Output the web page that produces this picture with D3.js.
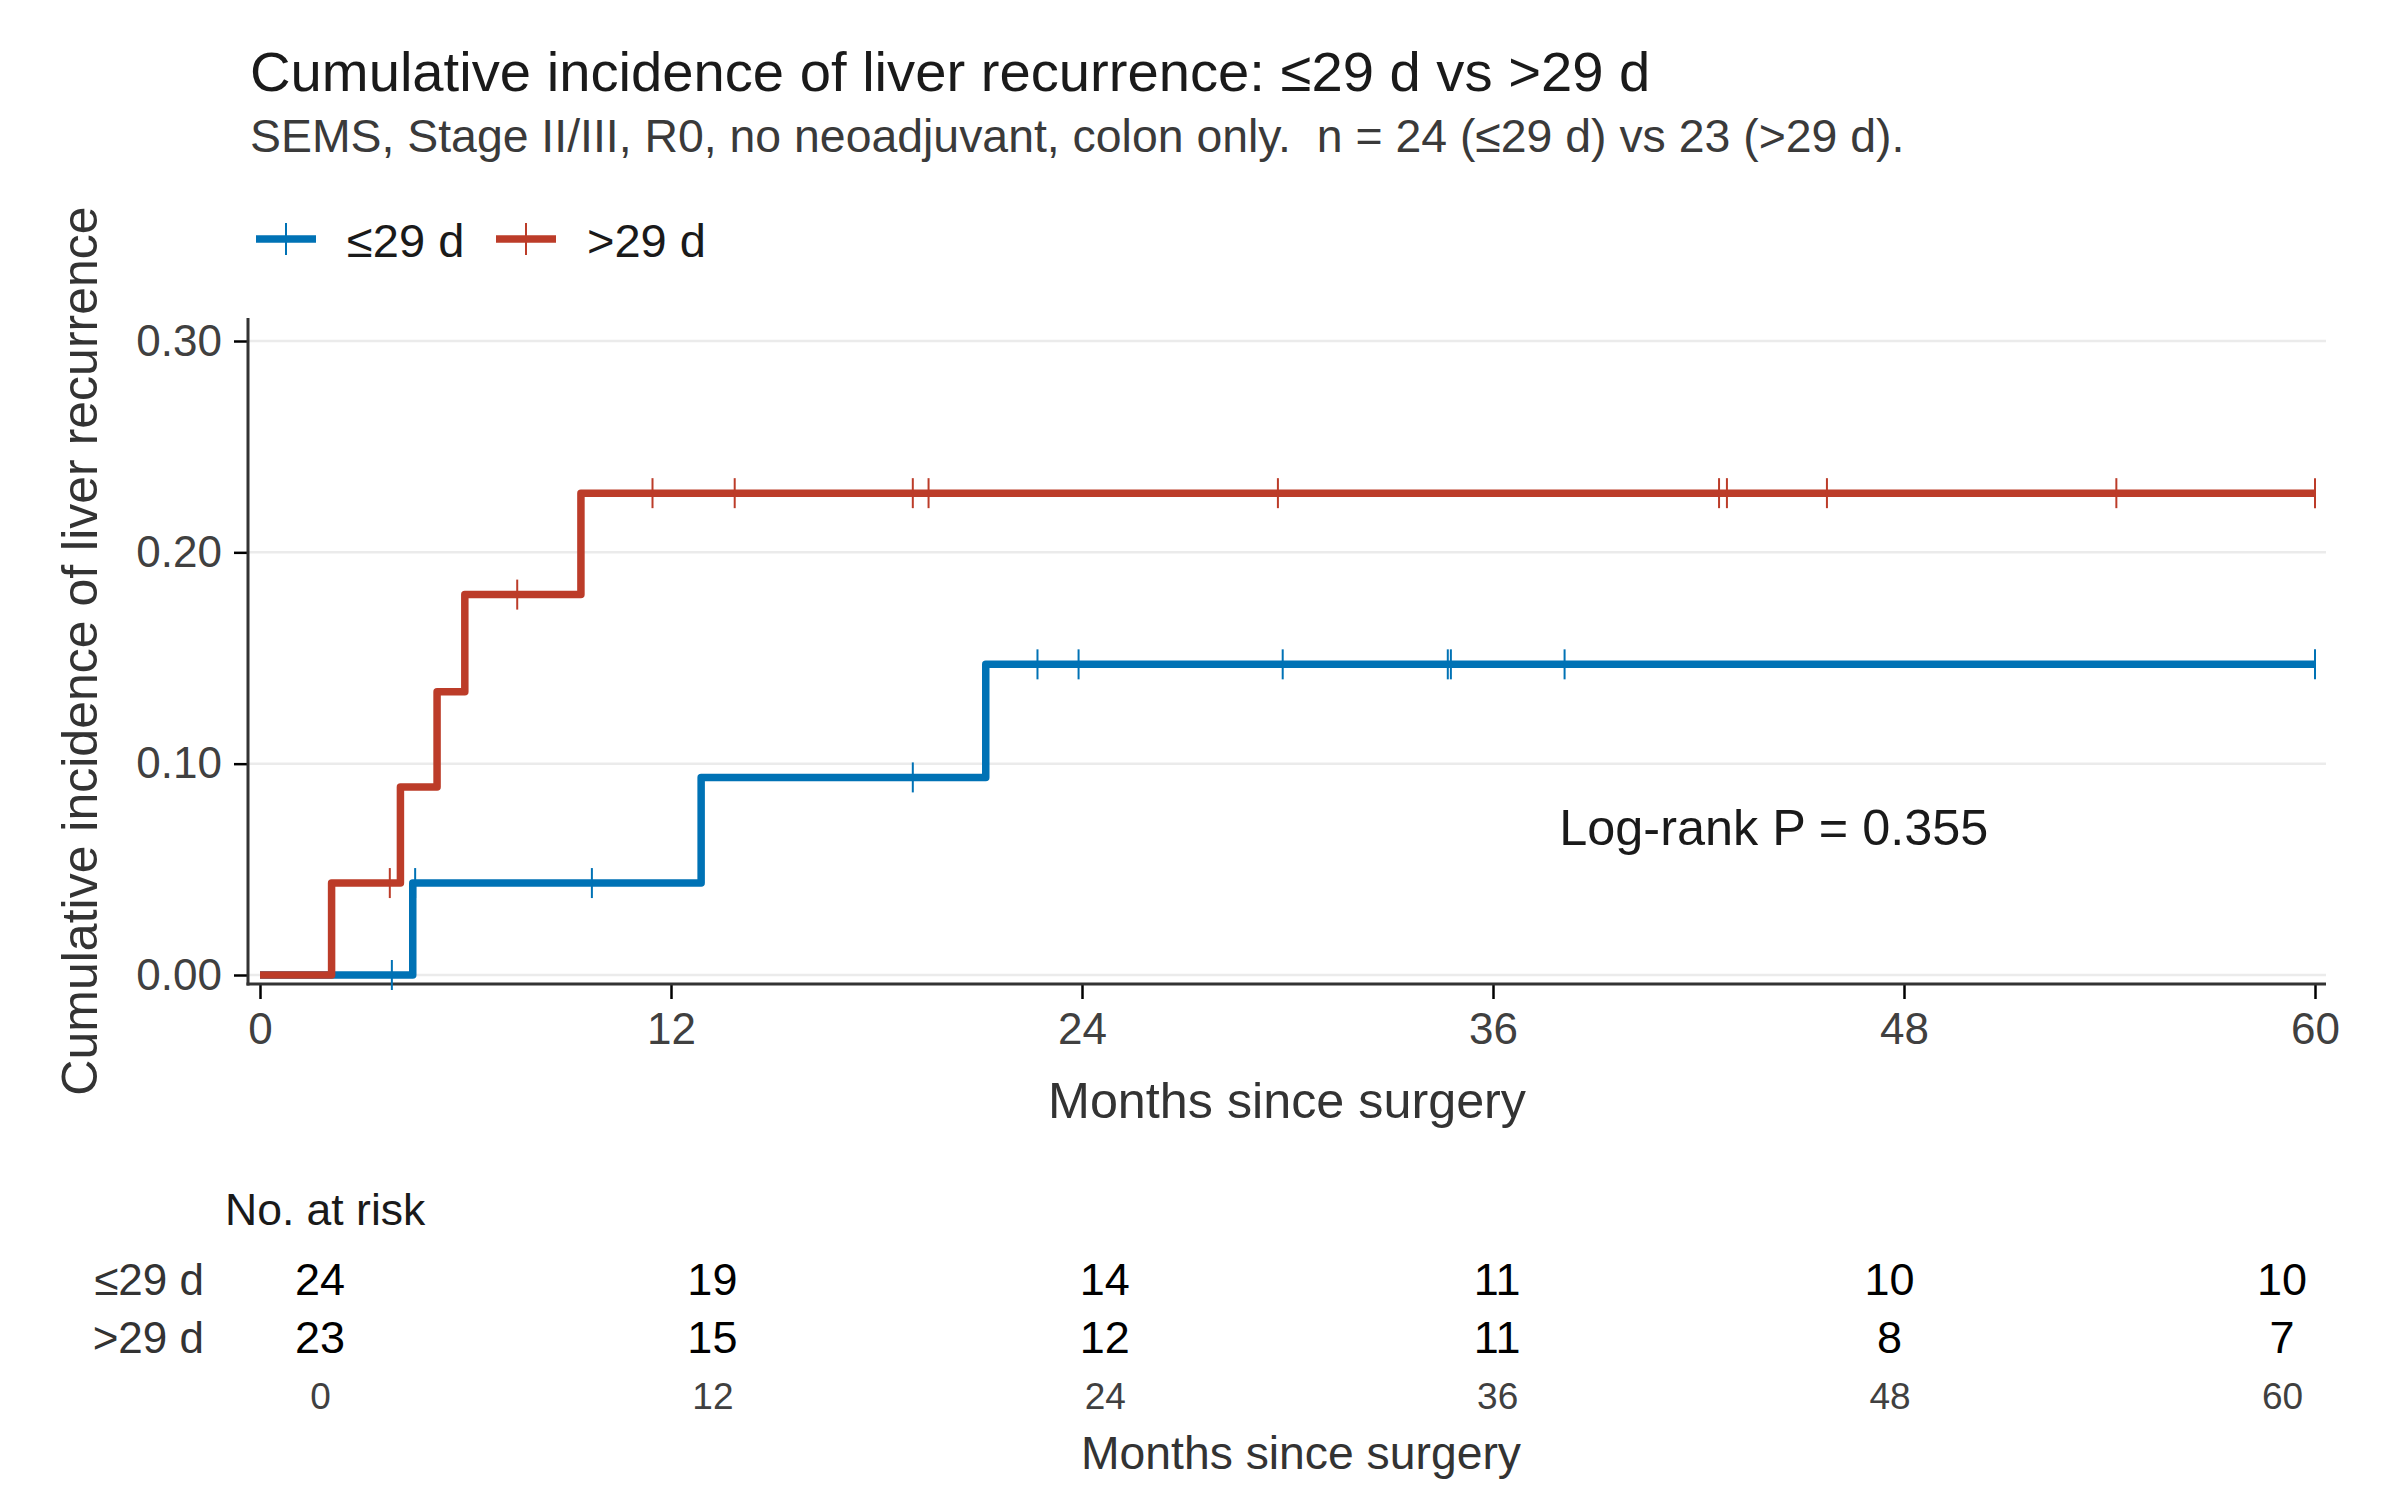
<!DOCTYPE html>
<html>
<head>
<meta charset="utf-8">
<script src="https://cdn.jsdelivr.net/npm/d3@7"></script>
<style>
  body { margin: 0; background: #fff; }
  svg text { font-family: "Liberation Sans", Arial, sans-serif; }
</style>
</head>
<body>
<div id="chart"></div>
<script>
// Step curves (time in months, cumulative incidence after that time)
const groups = ["≤29 d", ">29 d"];
const colors = ["#0072B5", "#BC3C29"];

const earlyTimes = [0, 4.46, 12.88, 21.19];
const earlyValues = [0, 0.0435, 0.0935, 0.147];
const earlyCensor = [3.85, 4.53, 9.69, 19.06, 22.7, 23.9, 29.86, 34.68, 34.77, 38.09, 60];

const lateTimes = [0, 2.09, 4.10, 5.17, 5.98, 9.37];
const lateValues = [0, 0.0435, 0.089, 0.134, 0.180, 0.228];
const lateCensor = [3.79, 7.51, 11.46, 13.86, 19.06, 19.52, 29.72, 42.6, 42.83, 45.75, 54.2, 60];

const maxMonth = 60;
const xTicks = [0, 12, 24, 36, 48, 60];
const yTicks = [0, 0.1, 0.2, 0.3];

// Number at risk table
const riskMonths = [0, 12, 24, 36, 48, 60];
const riskEarly = [24, 19, 14, 11, 10, 10];
const riskLate = [23, 15, 12, 11, 8, 7];

const title = "Cumulative incidence of liver recurrence: ≤29 d vs >29 d";
const subtitle = "SEMS, Stage II/III, R0, no neoadjuvant, colon only.  n = 24 (≤29 d) vs 23 (>29 d).";
const pLabel = "Log-rank P = 0.355";
const pPos = [44.2, 0.07];

const W = 2400, H = 1500;
const panel = { left: 248, right: 2326, top: 318, bottom: 984 };

const svg = d3.select("#chart").append("svg")
    .attr("width", W)
    .attr("height", H)
    .attr("viewBox", `0 0 ${W} ${H}`);

svg.append("rect").attr("width", W).attr("height", H).attr("fill", "#fff");

const x = d3.scaleLinear().domain([0, maxMonth]).range([260, 2315]);
const y = d3.scaleLinear().domain([0, 0.3]).range([975, 341]);

// Titles
svg.append("text")
    .attr("x", 250).attr("y", 91)
    .attr("font-size", 56.2).attr("fill", "#1a1a1a")
    .text(title);

svg.append("text")
    .attr("x", 250).attr("y", 152)
    .attr("font-size", 46.4).attr("fill", "#3a3a3a")
    .style("white-space", "pre")
    .text(subtitle);

// Legend
const legendX = [256, 496];
groups.forEach((g, i) => {
    const lg = svg.append("g").attr("transform", `translate(${legendX[i]},239)`);
    lg.append("line")
        .attr("x1", 0).attr("x2", 60)
        .attr("stroke", colors[i]).attr("stroke-width", 7.5);
    lg.append("line")
        .attr("x1", 30).attr("x2", 30).attr("y1", -16).attr("y2", 16)
        .attr("stroke", colors[i]).attr("stroke-width", 2);
    lg.append("text")
        .attr("x", 91).attr("y", 18)
        .attr("font-size", 47).attr("fill", "#1a1a1a")
        .text(g);
});

// Grid
svg.append("g").selectAll("line")
    .data(yTicks)
    .join("line")
    .attr("x1", panel.left).attr("x2", panel.right)
    .attr("y1", d => y(d)).attr("y2", d => y(d))
    .attr("stroke", "#ebebeb").attr("stroke-width", 2.5);

// Axes
const yAxisG = svg.append("g")
    .attr("transform", `translate(${panel.left - 1},0)`)
    .call(d3.axisLeft(y).tickValues(yTicks).tickFormat(d3.format(".2f")).tickSize(13).tickPadding(12));

const xAxisG = svg.append("g")
    .attr("transform", `translate(0,${panel.bottom + 1})`)
    .call(d3.axisBottom(x).tickValues(xTicks).tickSize(14).tickPadding(14));

[yAxisG, xAxisG].forEach(g => {
    g.select(".domain").remove();
    g.selectAll(".tick line").attr("stroke", "#000").attr("stroke-width", 2.5);
    g.selectAll(".tick text")
        .attr("font-size", 44)
        .attr("fill", "#404040")
        .style("font-family", "'Liberation Sans', Arial, sans-serif");
});

svg.append("line")
    .attr("x1", panel.left).attr("x2", panel.left)
    .attr("y1", panel.top).attr("y2", panel.bottom + 1.5)
    .attr("stroke", "#333").attr("stroke-width", 3);
svg.append("line")
    .attr("x1", panel.left - 1.5).attr("x2", panel.right)
    .attr("y1", panel.bottom).attr("y2", panel.bottom)
    .attr("stroke", "#333").attr("stroke-width", 3);

// Axis titles
svg.append("text")
    .attr("transform", `translate(97,${(panel.top + panel.bottom) / 2}) rotate(-90)`)
    .attr("text-anchor", "middle")
    .attr("font-size", 50).attr("fill", "#333")
    .text("Cumulative incidence of liver recurrence");

svg.append("text")
    .attr("x", (panel.left + panel.right) / 2).attr("y", 1118)
    .attr("text-anchor", "middle")
    .attr("font-size", 50.3).attr("fill", "#333")
    .text("Months since surgery");

// Curves: blue first so red sits on top
const curves = [
    { times: earlyTimes, values: earlyValues, censor: earlyCensor, color: colors[0] },
    { times: lateTimes, values: lateValues, censor: lateCensor, color: colors[1] }
];

const stepLine = d3.line()
    .x(d => x(d[0]))
    .y(d => y(d[1]))
    .curve(d3.curveStepAfter);

const valueAt = (c, t) => c.values[d3.bisectRight(c.times, t) - 1];

curves.forEach(c => {
    const pts = c.times.map((t, i) => [t, c.values[i]]);
    pts.push([maxMonth, c.values[c.values.length - 1]]);

    svg.append("path")
        .datum(pts)
        .attr("d", stepLine)
        .attr("fill", "none")
        .attr("stroke", c.color)
        .attr("stroke-width", 7.5)
        .attr("stroke-linejoin", "round");

    svg.append("g").selectAll("line")
        .data(c.censor)
        .join("line")
        .attr("x1", d => x(d)).attr("x2", d => x(d))
        .attr("y1", d => y(valueAt(c, d)) - 15)
        .attr("y2", d => y(valueAt(c, d)) + 15)
        .attr("stroke", c.color)
        .attr("stroke-width", 2);
});

svg.append("text")
    .attr("x", x(pPos[0])).attr("y", y(pPos[1]))
    .attr("dy", "0.36em")
    .attr("text-anchor", "middle")
    .attr("font-size", 50.4).attr("fill", "#1a1a1a")
    .text(pLabel);

// Number at risk table
const xr = d3.scaleLinear().domain([0, maxMonth]).range([320, 2282]);

svg.append("text")
    .attr("x", 225).attr("y", 1225)
    .attr("font-size", 44.5).attr("fill", "#1a1a1a")
    .text("No. at risk");

const rows = [
    { label: groups[0], counts: riskEarly, yy: 1295 },
    { label: groups[1], counts: riskLate, yy: 1353 }
];

rows.forEach(r => {
    svg.append("text")
        .attr("x", 204).attr("y", r.yy)
        .attr("text-anchor", "end")
        .attr("font-size", 44).attr("fill", "#333")
        .text(r.label);

    svg.append("g").selectAll("text")
        .data(r.counts)
        .join("text")
        .attr("x", (d, i) => xr(riskMonths[i]))
        .attr("y", r.yy)
        .attr("text-anchor", "middle")
        .attr("font-size", 45).attr("fill", "#000")
        .text(d => d);
});

const riskAxis = svg.append("g")
    .attr("transform", "translate(0,1383)")
    .call(d3.axisBottom(xr).tickValues(riskMonths).tickSize(0).tickPadding(0));
riskAxis.select(".domain").remove();
riskAxis.selectAll(".tick text")
    .attr("font-size", 37)
    .attr("fill", "#404040")
    .style("font-family", "'Liberation Sans', Arial, sans-serif");

svg.append("text")
    .attr("x", (320 + 2282) / 2).attr("y", 1469)
    .attr("text-anchor", "middle")
    .attr("font-size", 46.3).attr("fill", "#333")
    .text("Months since surgery");
</script>
</body>
</html>
